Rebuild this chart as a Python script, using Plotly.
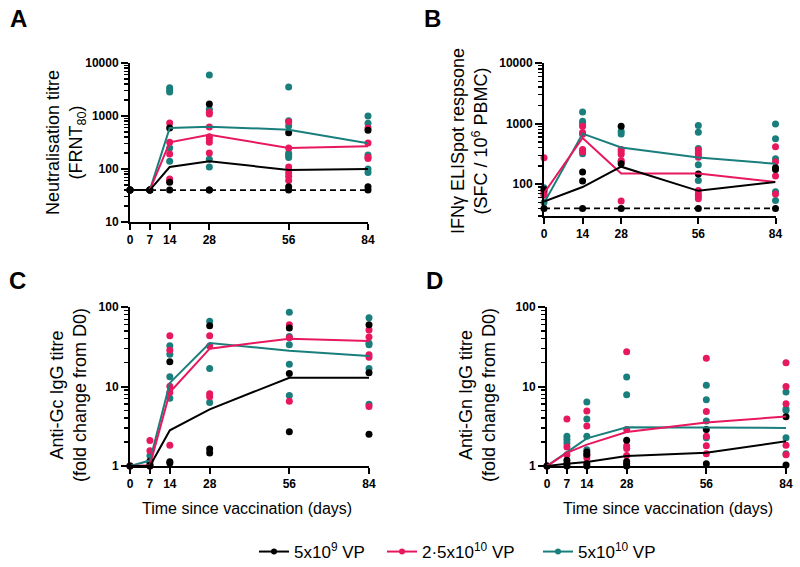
import plotly.graph_objects as go

W, H = 800, 567
BLACK = '#000000'
PINK = '#E8185F'
TEAL = '#1A7F7C'
FONT = 'Liberation Sans, Arial, sans-serif'
LOD = 40

days_full = [0, 7, 14, 28, 56, 84]
days_B = [0, 14, 28, 56, 84]
series_names = ['5x10<sup>9</sup> VP', '2·5x10<sup>10</sup> VP', '5x10<sup>10</sup> VP']

# ---------- Panel A: neutralisation titre ----------
A_black_pts = {0: [40, 40, 40], 7: [40, 40, 40], 14: [594, 56, 40], 28: [1684, 40, 40],
               56: [485, 46, 40], 84: [540, 46, 40]}
A_pink_pts = {0: [40], 7: [40], 14: [738, 318, 192, 65, 60], 28: [1173, 1090, 620, 408, 367, 318, 200],
              56: [780, 249, 109, 85, 73, 61], 84: [594, 310, 166, 157]}
A_teal_pts = {0: [40], 7: [40], 14: [3400, 3100, 2850, 249, 140], 28: [5940, 1336, 152, 109],
              56: [3520, 816, 648, 198, 181, 164], 84: [1000, 727, 184, 100, 86]}
A_black_line = [40, 40, 109, 140, 96, 100]
A_pink_line = [40, 40, 318, 444, 249, 268]
A_teal_line = [40, 40, 594, 629, 552, 306]

# ---------- Panel B: IFNg ELISpot ----------
B_black_pts = {0: [82, 40], 14: [159, 113, 40], 28: [904, 218, 40], 56: [148, 40], 84: [188, 176, 40]}
B_pink_pts = {0: [274, 76, 69, 66], 14: [904, 712, 668, 375, 343], 28: [375, 343, 314, 247, 236, 53],
              56: [366, 330, 303, 280, 79, 69, 64, 58], 84: [414, 236, 137, 69]}
B_teal_pts = {0: [88, 50], 14: [1553, 1092, 1000, 318], 28: [748, 677],
              56: [928, 721, 389, 210, 116], 84: [987, 561, 264, 75, 54]}
B_black_line = [52, 90, 195, 78, 109]
B_pink_line = [71, 582, 151, 151, 109]
B_teal_line = [49, 685, 404, 277, 218]

# ---------- Panel C: anti-Gc IgG ----------
C_black_pts = {0: [1], 7: [1.15, 1.05, 1], 14: [20.5, 1.13, 1.09], 28: [58, 1.64, 1.46],
               56: [54.4, 14.6, 2.7], 84: [60, 14.9, 2.5]}
C_pink_pts = {0: [1], 7: [2.1, 1.55, 1], 14: [43.6, 28.5, 10.1, 8.4, 1.82], 28: [43.6, 32.3, 8.1, 7.45],
              56: [60, 41, 6.5], 84: [51.4, 42, 25.1, 23.3, 5.6]}
C_teal_pts = {0: [1], 7: [1.35], 14: [32.6, 25.4, 13.3, 7.1], 28: [66, 16.9, 6.3],
              56: [85.7, 42.4, 33.6, 19, 7.7], 84: [73.4, 34.9, 33.6, 16.8, 6.0]}
C_black_line = [1, 1.0, 2.81, 5.16, 12.9, 12.9]
C_pink_line = [1, 1.02, 8.45, 29.9, 40, 37.4]
C_teal_line = [1, 1.17, 11.1, 35.3, 28.2, 24.2]

# ---------- Panel D: anti-Gn IgG ----------
D_black_pts = {0: [1], 7: [1.18, 1.07, 1], 14: [1.5, 1.4, 1.07, 1], 28: [2.11, 1.14, 1.07, 1],
               56: [2.87, 1.07], 84: [4.15, 1.03]}
D_pink_pts = {0: [1], 7: [3.91, 1.73, 1.39], 14: [4.93, 3.19, 1.36, 1.26], 28: [27.4, 2.87, 1.79, 1.66, 1.36],
              56: [22.7, 4.84, 2.37, 1.8, 1.43], 84: [19.9, 10, 6.05, 1.82, 1.39]}
D_teal_pts = {0: [1], 7: [2.37, 2.16, 1.95], 14: [6.4, 3.9, 2.37, 1.6], 28: [13.2, 7.9],
              56: [10.4, 6.8, 3.69, 2.26], 84: [8.5, 5.2, 5.0, 2.26, 1.43]}
D_black_line = [1, 1.07, 1.12, 1.34, 1.47, 2.05]
D_pink_line = [1, 1.46, 1.86, 2.68, 3.52, 4.19]
D_teal_line = [1, 1.5, 2.23, 3.07, 3.07, 3.01]


def flat(pts):
    xs, ys = [], []
    for d, vals in pts.items():
        for v in vals:
            xs.append(d)
            ys.append(v)
    return xs, ys


fig = go.Figure()

panels = [
    (1, days_full, [(A_teal_pts, A_teal_line, TEAL), (A_pink_pts, A_pink_line, PINK), (A_black_pts, A_black_line, BLACK)], True),
    (2, days_B, [(B_teal_pts, B_teal_line, TEAL), (B_pink_pts, B_pink_line, PINK), (B_black_pts, B_black_line, BLACK)], True),
    (3, days_full, [(C_teal_pts, C_teal_line, TEAL), (C_pink_pts, C_pink_line, PINK), (C_black_pts, C_black_line, BLACK)], False),
    (4, days_full, [(D_teal_pts, D_teal_line, TEAL), (D_pink_pts, D_pink_line, PINK), (D_black_pts, D_black_line, BLACK)], False),
]

for idx, days, groups, has_lod in panels:
    xa = 'x' if idx == 1 else f'x{idx}'
    ya = 'y' if idx == 1 else f'y{idx}'
    if has_lod:
        fig.add_trace(go.Scatter(x=[days[0], days[-1]], y=[LOD, LOD], mode='lines',
                                 line=dict(color=BLACK, width=1.8, dash='6px,4px'),
                                 xaxis=xa, yaxis=ya, showlegend=False, hoverinfo='skip'))
    for pts, line, col in groups:
        xs, ys = flat(pts)
        fig.add_trace(go.Scatter(x=xs, y=ys, mode='markers',
                                 marker=dict(color=col, size=7, line=dict(width=0)),
                                 xaxis=xa, yaxis=ya, showlegend=False, cliponaxis=False))
    for pts, line, col in groups:
        fig.add_trace(go.Scatter(x=days, y=line, mode='lines', line=dict(color=col, width=2),
                                 xaxis=xa, yaxis=ya, showlegend=False, cliponaxis=False))

# legend-only traces, each in its own legend box
legend_ids = ['legend', 'legend2', 'legend3']
for name, col, lg in zip(series_names, [BLACK, PINK, TEAL], legend_ids):
    fig.add_trace(go.Scatter(x=[None], y=[None], mode='lines+markers', name=name, legend=lg,
                             line=dict(color=col, width=2), marker=dict(color=col, size=6)))


def dx(a, b):
    return [a / W, b / W]


def dy(top, bottom):
    return [1 - bottom / H, 1 - top / H]


def minor_vals(lo, hi):
    return [m * 10 ** e for e in range(lo, hi) for m in range(2, 10)]


tickfont = dict(family=FONT, size=12, color=BLACK, weight='bold')
common_x = dict(range=[0, 84], showline=True, linecolor=BLACK, linewidth=2, ticks='outside',
                ticklen=6, tickwidth=2, tickcolor=BLACK, showgrid=False, zeroline=False,
                tickfont=tickfont, fixedrange=True)


def yax(lo_e, hi_e, rng, dom):
    return dict(type='log', showline=True, linecolor=BLACK, linewidth=2, ticks='outside',
                ticklen=7, tickwidth=2, tickcolor=BLACK, showgrid=False, zeroline=False,
                tickfont=tickfont, dtick=1, tickformat='d', range=rng, domain=dom,
                minor=dict(ticks='outside', ticklen=4, tickwidth=1.3, tickcolor=BLACK,
                           tickmode='array', tickvals=minor_vals(lo_e, hi_e), showgrid=False))


fig.update_layout(
    xaxis=dict(common_x, domain=dx(130, 368), anchor='y', tickvals=days_full),
    yaxis=dict(yax(1, 4, [1, 4], dy(63, 222)), anchor='x'),
    xaxis2=dict(common_x, domain=dx(544, 775.5), anchor='y2', tickvals=days_B),
    yaxis2=dict(yax(1, 4, [1.477, 4], dy(63, 216)), anchor='x2'),
    xaxis3=dict(common_x, domain=dx(130, 369), anchor='y3', tickvals=days_full),
    yaxis3=dict(yax(0, 2, [0, 2], dy(307, 466)), anchor='x3'),
    xaxis4=dict(common_x, domain=dx(547, 786), anchor='y4', tickvals=days_full),
    yaxis4=dict(yax(0, 2, [0, 2], dy(307, 466)), anchor='x4'),
)

ann = []
for letter, x, y in [('A', 18, 18), ('B', 432, 18), ('C', 17, 281), ('D', 435, 281)]:
    ann.append(dict(text=letter, x=x / W, y=1 - y / H, xref='paper', yref='paper', showarrow=False,
                    xanchor='center', yanchor='middle',
                    font=dict(family=FONT, size=24, color=BLACK, weight='bold')))

ytitles = [
    ('Neutralisation titre<br>(FRNT<sub>80</sub>)', 66, 143),
    ('IFNγ ELISpot respsone<br>(SFC / 10<sup>6</sup> PBMC)', 470, 141),
    ('Anti-Gc IgG titre<br>(fold change from D0)', 68, 395),
    ('Anti-Gn IgG titre<br>(fold change from D0)', 477, 395),
]
for t, x, y in ytitles:
    ann.append(dict(text=t, x=x / W, y=1 - y / H, xref='paper', yref='paper', showarrow=False,
                    textangle=-90, xanchor='center', yanchor='middle',
                    font=dict(family=FONT, size=18, color=BLACK)))

for x in [247, 668]:
    ann.append(dict(text='Time since vaccination (days)', x=x / W, y=1 - 508 / H, xref='paper',
                    yref='paper', showarrow=False, xanchor='center', yanchor='middle',
                    font=dict(family=FONT, size=16, color=BLACK)))

legend_common = dict(orientation='h', xanchor='left', y=1 - 552 / H, yanchor='middle',
                     font=dict(family=FONT, size=17, color=BLACK), itemwidth=30,
                     bgcolor='rgba(0,0,0,0)', borderwidth=0)

fig.update_layout(
    annotations=ann,
    width=W, height=H, autosize=False,
    margin=dict(l=0, r=0, t=0, b=0, autoexpand=False),
    paper_bgcolor='white', plot_bgcolor='white',
    font=dict(family=FONT, color=BLACK),
    showlegend=True,
    legend=dict(legend_common, x=(262 - 8) / W),
    legend2=dict(legend_common, x=(393 - 11) / W),
    legend3=dict(legend_common, x=(545 - 7) / W),
)

fig.write_html('out.html', config={'displayModeBar': False, 'staticPlot': True},
               post_script="document.body.style.margin='0px';document.body.style.overflow='hidden';")
